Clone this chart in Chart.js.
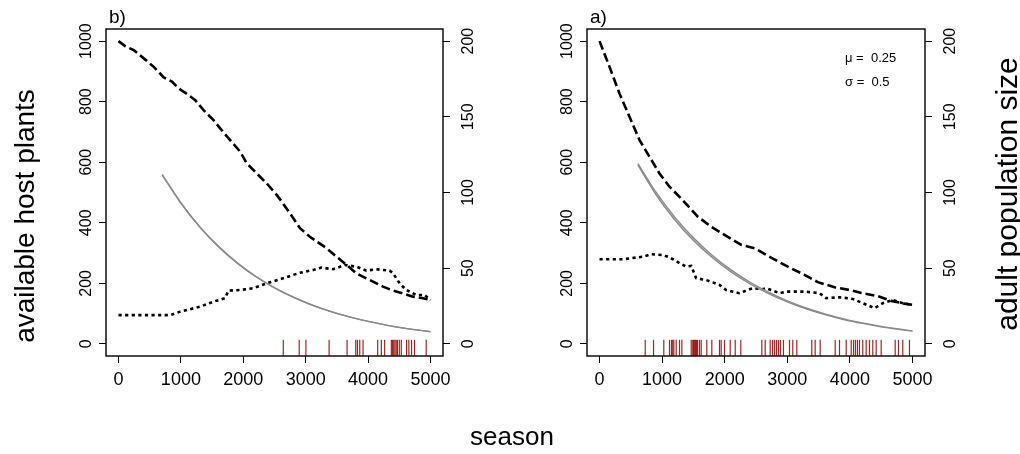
<!DOCTYPE html>
<html><head><meta charset="utf-8">
<script src="https://cdn.jsdelivr.net/npm/chart.js@4.4.0/dist/chart.umd.min.js"></script>
<style>
html,body{margin:0;padding:0;background:#fff;}
#wrap{position:relative;width:1020px;height:454px;overflow:hidden;}
#wrap canvas{position:absolute;left:0;top:0;}
</style></head><body>
<div id="wrap"><canvas id="cb" width="1020" height="454"></canvas><canvas id="ca" width="1020" height="454"></canvas></div>
<script>
// ---- tick labels ----
const seasonTicks = [0,1000,2000,3000,4000,5000];
const hostTicks = [0,200,400,600,800,1000];
const adultTicks = [0,50,100,150,200];

// ---- panel b ----
const bHostSeason = [0,112,245,405,565,725,857,964,1124,1230,1363,1523,1629,1789,1949,2056,2216,2375,2535,2615,2748,2908,3067,3334,3494,3653,3813,4026,4239,4398,4558,4718,4878,5000];
const bHost = [1000,983,970,943,915,880,866,844,822,805,772,739,712,673,635,596,563,530,492,470,431,382,354,316,288,261,233,211,189,176,167,156,151,145];
const bAdultSeason = [0,830,990,1310,1523,1709,1762,1949,2162,2375,2588,2908,3120,3254,3440,3626,3813,3973,4133,4345,4398,4505,4611,4771,4904,5000];
const bAdult = [19,19,21.3,24.6,27.9,30.2,35.2,35.6,36.8,40,42.7,47,48.8,50.4,49.3,52.1,51,48.4,49.3,48.4,46.7,40,35.6,32.3,32.3,29];
const bFitSeason = [700,1000,1300,1600,1900,2200,2500,2800,3100,3400,3700,4000,4300,4600,5000];
const bFitUpper = [112,93.3,77.6,64.6,53.7,44.7,37.2,31.0,25.8,21.5,17.9,14.9,12.4,10.3,8.1];
const bFitLower = [111.5,92.8,77.1,64.1,53.3,44.3,36.9,30.7,25.6,21.3,17.8,14.8,12.3,10.2,8.0];
const bRug = [2641,2896,3003,3375,3663,3802,3829,3866,3919,4153,4212,4265,4372,4390,4410,4430,4450,4470,4500,4532,4617,4653,4696,4744,4931];

// ---- panel a ----
const aHostSeason = [0,160,319,479,639,799,958,1118,1305,1571,1784,1997,2263,2476,2742,3008,3275,3488,3754,4021,4233,4446,4659,4872,5000];
const aHost = [1000,915,827,750,673,618,563,519,480,420,387,360,327,316,285,255,228,204,187,177,166,158,142,133,129];
const aAdultSeason = [0,373,692,826,1012,1092,1198,1278,1385,1465,1544,1704,1917,2024,2236,2343,2449,2609,2662,2875,2982,3302,3514,3621,3834,4047,4206,4393,4526,4686,4845,5000];
const aAdult = [55.9,55.9,57.6,59.2,58.7,57.6,55.4,53.3,51,51.5,43.4,42.2,39,35.6,33.5,35.2,36.8,36.1,36.8,33.5,34.5,34.5,33.5,30.2,30.8,29.7,26.9,23.6,26.9,29,26.9,25.7];
const aFitSeason = [612,900,1200,1500,1800,2100,2400,2700,3000,3300,3600,3900,4200,4500,4800,5000];
const aFitUpper = [119.3,100.4,83.9,70.1,58.6,48.9,40.9,34.2,28.5,23.8,19.9,16.6,13.9,11.6,9.7,8.6];
const aFitLower = [118.3,98.6,82.0,68.3,57.0,47.5,39.7,33.2,27.7,23.1,19.3,16.1,13.5,11.3,9.5,8.4];
const aRug = [730,863,1027,1118,1150,1170,1187,1225,1278,1315,1465,1490,1502,1520,1534,1550,1566,1597,1625,1714,1794,1917,1944,1997,2088,2168,2257,2593,2647,2727,2764,2796,2827,2859,2891,2939,3035,3088,3152,3391,3445,3525,3765,3834,3941,4021,4058,4089,4121,4153,4206,4260,4313,4366,4420,4500,4724,4776,4845,4952];

const FONT = "'Liberation Sans', Arial, Helvetica, sans-serif";
const RUG_Y = -13; // rug baseline on host-plant axis

function pts(xs, ys){ return xs.map((x,i)=>({x:x, y:ys[i]})); }

function vtext(ctx, str, x, y, size, baseline){
  ctx.save();
  ctx.translate(x, y);
  ctx.rotate(-Math.PI/2);
  ctx.font = size + 'px ' + FONT;
  ctx.fillStyle = '#000';
  ctx.textAlign = 'center';
  ctx.textBaseline = baseline;
  ctx.fillText(str, 0, 0);
  ctx.restore();
}

function makeChart(id, p){
  const decor = {
    id: 'decor_' + id,
    afterDraw(chart){
      const ctx = chart.ctx, ca = chart.chartArea;
      ctx.save();
      ctx.strokeStyle = '#000';
      ctx.lineWidth = 1.4;
      ctx.strokeRect(ca.left, ca.top, ca.right - ca.left, ca.bottom - ca.top);
      // rotated y tick labels
      const yl = chart.scales.y, yr = chart.scales.y2;
      hostTicks.forEach(v => vtext(ctx, String(v), ca.left - 15, yl.getPixelForValue(v), 16, 'alphabetic'));
      adultTicks.forEach(v => vtext(ctx, String(v), ca.right + 30, yr.getPixelForValue(v), 16, 'alphabetic'));
      // panel label
      ctx.font = '19px ' + FONT;
      ctx.fillStyle = '#000';
      ctx.textAlign = 'left';
      ctx.textBaseline = 'alphabetic';
      ctx.fillText(p.label, ca.left + 3, 23);
      if (p.extra) p.extra(ctx, ca);
      ctx.restore();
    }
  };
  const grey = '#8a8a8a';
  const datasets = [
    {type:'line', data: pts(p.fitX, p.fitU), yAxisID:'y2', borderColor:grey, borderWidth:1.3, pointRadius:0, cubicInterpolationMode:'monotone', fill:false},
    {type:'line', data: pts(p.fitX, p.fitL), yAxisID:'y2', borderColor:grey, borderWidth:1.3, pointRadius:0, cubicInterpolationMode:'monotone', fill:'-1', backgroundColor:'rgba(160,160,160,0.6)'},
    {type:'line', data: pts(p.hostX, p.host), yAxisID:'y', borderColor:'#000', borderWidth:2.6, borderDash:[9,4], pointRadius:0, tension:0, fill:false},
    {type:'line', data: pts(p.adultX, p.adult), yAxisID:'y2', borderColor:'#000', borderWidth:2.6, borderDash:[3.2,3.4], pointRadius:0, tension:0, fill:false},
    {type:'scatter', data: p.rug.map(x => ({x:x, y:RUG_Y})), yAxisID:'y', pointStyle:'line', rotation:90, pointRadius:8, pointBorderWidth:1.2, borderColor:'rgba(139,0,0,0.85)', pointBorderColor:'rgba(139,0,0,0.85)', showLine:false}
  ];
  const tickGrid = {drawOnChartArea:false, drawTicks:true, tickLength:7, color:'#000', lineWidth:1};
  return new Chart(document.getElementById(id), {
    type:'line',
    data:{datasets: datasets},
    options:{
      responsive:false, animation:false, events:[],
      layout:{padding:p.pad},
      plugins:{legend:{display:false}, tooltip:{enabled:false}},
      scales:{
        x:{type:'linear', position:'bottom', min:-200, max:5200,
           afterBuildTicks: s => { s.ticks = seasonTicks.map(v => ({value:v})); },
           afterFit: s => { s.height = 40; s.paddingLeft = 0; s.paddingRight = 0; },
           grid: tickGrid, border:{display:false},
           ticks:{font:{size:18, family:FONT}, color:'#000', padding:6, maxRotation:0, minRotation:0, autoSkip:false,
                  callback: v => String(v)}},
        y:{type:'linear', position:'left', min:-40, max:1040,
           afterBuildTicks: s => { s.ticks = hostTicks.map(v => ({value:v})); },
           afterFit: s => { s.width = 7; },
           grid: tickGrid, border:{display:false}, ticks:{display:false}},
        y2:{type:'linear', position:'right', min:-8, max:208,
           afterBuildTicks: s => { s.ticks = adultTicks.map(v => ({value:v})); },
           afterFit: s => { s.width = 7; },
           grid: tickGrid, border:{display:false}, ticks:{display:false}}
      }
    },
    plugins:[decor]
  });
}

makeChart('cb', {
  label:'b)', hostX:bHostSeason, host:bHost, adultX:bAdultSeason, adult:bAdult,
  fitX:bFitSeason, fitU:bFitUpper, fitL:bFitLower, rug:bRug,
  pad:{left:99, right:570, top:29, bottom:58},
  extra:(ctx, ca) => {
    vtext(ctx, 'available host plants', 34, 216, 28, 'alphabetic');
    ctx.font = '26px ' + FONT;
    ctx.textAlign = 'center';
    ctx.fillText('season', 512, 445);
  }
});
makeChart('ca', {
  label:'a)', hostX:aHostSeason, host:aHost, adultX:aAdultSeason, adult:aAdult,
  fitX:aFitSeason, fitU:aFitUpper, fitL:aFitLower, rug:aRug,
  pad:{left:580, right:88, top:29, bottom:58},
  extra:(ctx, ca) => {
    vtext(ctx, 'adult population size', 1017, 194, 30, 'alphabetic');
    ctx.font = '13px ' + FONT;
    ctx.textAlign = 'left';
    ctx.fillText('\u03bc =  0.25', 845, 62);
    ctx.fillText('\u03c3 =  0.5', 845, 86);
  }
});
</script>
</body></html>
